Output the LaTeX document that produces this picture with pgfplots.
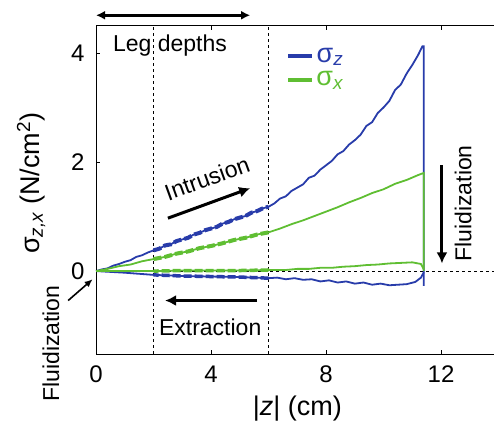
\documentclass[border=0pt]{standalone}
\usepackage{fontspec}
\setmainfont{Liberation Sans}
\usepackage{pgfplots}
\usepackage{pgfplotstable}
\pgfplotsset{compat=1.18}
\usetikzlibrary{arrows.meta}
\definecolor{sblue}{RGB}{40,60,170}
\definecolor{sgreen}{RGB}{95,190,50}

\pgfplotstableread{
x y
0.0 0.00
0.2 0.03
0.4 0.05
0.6 0.10
0.8 0.13
1.0 0.17
1.2 0.20
1.4 0.26
1.6 0.29
1.8 0.34
2.0 0.38
2.2 0.41
2.4 0.47
2.6 0.49
2.8 0.55
3.0 0.58
3.2 0.61
3.4 0.67
3.6 0.70
3.8 0.75
4.0 0.78
4.2 0.81
4.4 0.87
4.6 0.90
4.8 0.95
5.0 0.98
5.2 1.01
5.4 1.07
5.6 1.10
5.8 1.15
6.0 1.18
6.2 1.24
6.4 1.33
6.6 1.37
6.8 1.47
7.0 1.53
7.2 1.59
7.4 1.71
7.6 1.75
7.8 1.86
8.0 1.94
8.2 2.02
8.4 2.14
8.6 2.20
8.8 2.32
9.0 2.40
9.2 2.50
9.4 2.66
9.6 2.73
9.8 2.90
10.0 3.00
10.2 3.12
10.4 3.32
10.6 3.42
10.8 3.62
11.0 3.78
11.2 3.96
11.35 4.12
11.4 4.12
11.4 -0.27
}\blueup

\pgfplotstableread{
x y
11.4 -0.02
11.3 -0.12
11.1 -0.20
10.8 -0.24
10.5 -0.25
10.2 -0.26
9.9 -0.23
9.6 -0.25
9.3 -0.21
9.0 -0.23
8.7 -0.19
8.4 -0.21
8.1 -0.17
7.8 -0.19
7.5 -0.15
7.2 -0.16
6.9 -0.13
6.6 -0.15
6.3 -0.12
6.0 -0.13
5.0 -0.11
4.0 -0.10
3.0 -0.09
2.0 -0.07
1.0 -0.03
0.0 0.00
}\bluedown

\pgfplotstableread{
x y
0.0 0.00
0.4 0.04
0.8 0.09
1.2 0.12
1.6 0.18
2.0 0.22
2.4 0.26
2.8 0.32
3.2 0.36
3.6 0.42
4.0 0.46
4.4 0.51
4.8 0.57
5.2 0.61
5.6 0.67
6.0 0.71
6.4 0.78
6.8 0.86
7.2 0.93
7.6 1.01
8.0 1.09
8.4 1.17
8.8 1.26
9.2 1.34
9.6 1.43
10.0 1.50
10.4 1.60
10.8 1.67
11.2 1.76
11.4 1.80
11.4 0.00
}\greenup

\pgfplotstableread{
x y
11.4 0.03
11.3 0.13
11.0 0.16
10.6 0.15
10.2 0.14
9.8 0.12
9.4 0.11
9.0 0.09
8.6 0.08
8.2 0.06
7.8 0.06
7.4 0.04
7.0 0.04
6.6 0.02
6.0 0.02
5.0 0.01
4.0 0.01
3.0 0.01
2.0 0.00
1.0 0.00
0.0 0.00
}\greendown

\newcommand\fs{\fontsize{23}{27}\selectfont}
\newcommand\ft{\fontsize{24}{28}\selectfont}
\newcommand\fl{\fontsize{27}{31}\selectfont}

\begin{document}
\begin{tikzpicture}
\begin{axis}[
  scale only axis,
  width=402.5pt, height=328.3pt,
  xmin=0, xmax=14, ymin=-1.52, ymax=4.5,
  xtick={0,4,8,12}, ytick={0,2,4},
  tick align=inside,
  major tick length=4pt,
  tick style={black, line width=0.8pt},
  axis line style={black, line width=0.9pt},
  ticklabel style={font=\ft},
  xticklabel style={yshift=-8pt},
  yticklabel style={xshift=-8pt},
  /pgf/number format/assume math mode=true,
  clip=false,
  legend style={draw=none, fill=none, at={(0.465,0.945)}, anchor=north west,
    font=\fl, row sep=4pt, /tikz/every even column/.append style={column sep=3pt}},
  legend image code/.code={\draw[#1, line width=4pt] (0pt,0pt) -- (24pt,0pt);},
]
% reference lines
\addplot[black, dashed, thin, forget plot] coordinates {(2,-1.52) (2,4.5)};
\addplot[black, dashed, thin, forget plot] coordinates {(6,-1.52) (6,4.5)};
\addplot[black, dashed, thin, forget plot] coordinates {(0,0) (14,0)};
% curves
\addplot[sblue, line width=1.8pt] table {\blueup};
\addlegendentry{\textcolor{sblue}{σ\textsubscript{\textit{z}}}}
\addplot[sgreen, line width=1.8pt] table {\greenup};
\addlegendentry{\textcolor{sgreen}{σ\textsubscript{\textit{x}}}}
\addplot[sblue, line width=1.8pt, forget plot] table {\bluedown};
\addplot[sgreen, line width=1.8pt, forget plot] table {\greendown};
% thicker dashed overlays in leg-depth region
\addplot[sblue, line width=4pt, dash pattern=on 8pt off 3pt, restrict x to domain=2:6, forget plot] table {\blueup};
\addplot[sgreen, line width=4pt, dash pattern=on 8pt off 3pt, restrict x to domain=2:6, forget plot] table {\greenup};
\addplot[sblue, line width=3.5pt, dash pattern=on 8pt off 3pt, restrict x to domain=2:6, forget plot] table {\bluedown};
\addplot[sgreen, line width=3.5pt, dash pattern=on 8pt off 3pt, restrict x to domain=2:6, forget plot] table {\greendown};

% annotations
\draw[line width=2.5pt, {Latex[length=9pt,width=9pt]}-{Latex[length=9pt,width=9pt]}] (axis cs:0,4.69) -- (axis cs:5.36,4.69);
\node[font=\fs] at (axis cs:2.57,4.14) {Leg depths};
\draw[line width=3pt, -{Latex[length=11pt,width=11pt]}] (axis cs:2.5,0.97) -- (axis cs:5.36,1.52);
\node[font=\fs, rotate=20] at (axis cs:3.86,1.70) {Intrusion};
\draw[line width=3pt, -{Latex[length=11pt,width=11pt]}] (axis cs:5.6,-0.54) -- (axis cs:2.4,-0.54);
\node[font=\fs] at (axis cs:3.97,-1.03) {Extraction};
\draw[line width=3pt, -{Latex[length=11pt,width=11pt]}] (axis cs:12.03,1.94) -- (axis cs:12.03,0.14);
\node[font=\fs, rotate=90] at (axis cs:12.77,1.24) {Fluidization};
\node[font=\fs, rotate=90] at (axis cs:-1.57,-1.33) {Fluidization};
\draw[line width=1.6pt, -{Latex[length=8pt,width=7pt]}] (axis cs:-0.97,-0.54) -- (axis cs:-0.12,-0.15);
\node[font=\fl] at (axis cs:7.0,-2.52) {|\textit{z}| (cm)};
\node[font=\fl, rotate=90] at (axis cs:-2.26,1.61) {σ\textsubscript{\textit{z,x}} (N/cm\textsuperscript{2})};

\coordinate (bbll) at (axis cs:-3.34,-2.89);
\coordinate (bbur) at (axis cs:13.84,4.97);
\end{axis}
\pgfresetboundingbox
\useasboundingbox (bbll) rectangle (bbur);
\end{tikzpicture}
\end{document}
